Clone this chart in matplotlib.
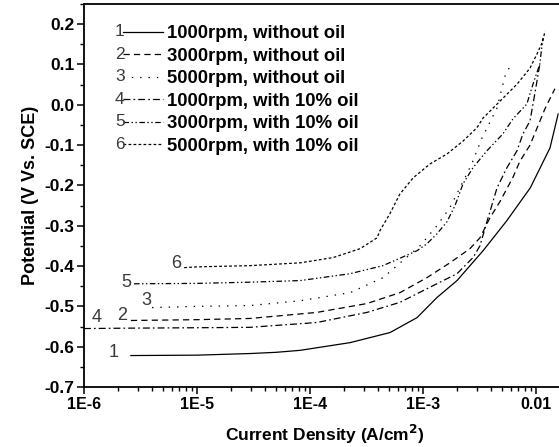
import matplotlib
matplotlib.use("Agg")
import matplotlib.pyplot as plt
from matplotlib.ticker import LogLocator, MultipleLocator, FixedLocator, FixedFormatter

plt.rcParams['font.family'] = ['Liberation Sans', 'DejaVu Sans']
plt.rcParams['lines.scale_dashes'] = False

# ---- data (current density A/cm^2, potential V vs SCE) ----
i1 = [2.6e-6, 1e-5, 2.94e-5, 5e-5, 8.2e-5, 2.26e-4, 5.1e-4, 8.85e-4, 1.33e-3, 2.0e-3,
      3.4e-3, 5.5e-3, 8.9e-3, 1.33e-2, 1.57e-2]
e1 = [-0.622, -0.621, -0.617, -0.614, -0.609, -0.590, -0.565, -0.528, -0.478, -0.436,
      -0.362, -0.288, -0.206, -0.107, -0.023]

i2 = [2.6e-6, 1e-5, 2.94e-5, 1.15e-4, 3.19e-4, 6.25e-4, 1.08e-3, 1.73e-3, 2.6e-3, 3.19e-3,
      3.92e-3, 4.8e-3, 6.25e-3, 7.2e-3, 8.85e-3, 1.2e-2, 1.47e-2]
e2 = [-0.535, -0.533, -0.530, -0.515, -0.493, -0.466, -0.429, -0.392, -0.357, -0.330,
      -0.280, -0.240, -0.180, -0.140, -0.100, -0.010, 0.040]

i3 = [4.0e-6, 1e-5, 2.94e-5, 8.2e-5, 2.26e-4, 4.42e-4, 5.89e-4, 9.4e-4, 1.33e-3, 1.73e-3,
      2.12e-3, 2.45e-3, 2.77e-3, 3.33e-3, 4.52e-3, 4.8e-3, 5.32e-3, 5.89e-3]
e3 = [-0.503, -0.500, -0.498, -0.486, -0.466, -0.429, -0.399, -0.350, -0.300, -0.255,
      -0.206, -0.171, -0.139, -0.082, -0.008, 0.022, 0.071, 0.096]

i4 = [1e-6, 2.6e-6, 1e-5, 2.94e-5, 1.15e-4, 3.19e-4, 6.25e-4, 1.22e-3, 2.0e-3, 2.77e-3,
      3.19e-3, 3.68e-3, 4.52e-3, 5.53e-3, 6.79e-3, 7.67e-3, 8.85e-3, 9.8e-3, 1.08e-2]
e4 = [-0.555, -0.554, -0.553, -0.552, -0.540, -0.515, -0.490, -0.449, -0.419, -0.379,
      -0.350, -0.290, -0.206, -0.156, -0.114, -0.072, -0.040, 0.030, 0.100]

i5 = [2.77e-6, 1e-5, 2.94e-5, 8.2e-5, 2.26e-4, 4.42e-4, 8.85e-4, 1.08e-3, 1.33e-3, 1.63e-3,
      1.92e-3, 2.26e-3, 2.77e-3, 3.68e-3, 5.1e-3, 6.25e-3, 8.3e-3, 9.4e-3, 1.08e-2, 1.15e-2]
e5 = [-0.444, -0.443, -0.440, -0.436, -0.419, -0.399, -0.362, -0.345, -0.320, -0.290,
      -0.250, -0.196, -0.156, -0.114, -0.072, -0.035, 0.002, 0.051, 0.101, 0.165]

i6 = [7.7e-6, 1e-5, 2.94e-5, 8.2e-5, 1.6e-4, 2.77e-4, 3.92e-4, 4.16e-4, 5.1e-4, 6.25e-4,
      8.2e-4, 1.15e-3, 1.63e-3, 2.26e-3, 3.0e-3, 3.4e-3, 4.8e-3, 6.79e-3, 8.85e-3, 1.02e-2,
      1.15e-2, 1.2e-2]
e6 = [-0.404, -0.402, -0.399, -0.392, -0.379, -0.357, -0.330, -0.312, -0.270, -0.221,
      -0.181, -0.147, -0.122, -0.090, -0.057, -0.033, 0.009, 0.051, 0.091, 0.126,
      0.158, 0.183]

labels = ["1000rpm, without oil", "3000rpm, without oil", "5000rpm, without oil",
          "1000rpm, with 10% oil", "3000rpm, with 10% oil", "5000rpm, with 10% oil"]
numbers = ["1", "2", "3", "4", "5", "6"]
xticks = [1e-6, 1e-5, 1e-4, 1e-3, 1e-2]
xticklabels = ["1E-6", "1E-5", "1E-4", "1E-3", "0.01"]
yticks = [-0.7, -0.6, -0.5, -0.4, -0.3, -0.2, -0.1, 0.0, 0.1, 0.2]

# curve number labels (x, y) in data coords
num_pos_x = [1.84e-6, 2.17e-6, 3.54e-6, 1.30e-6, 2.35e-6, 6.5e-6]
num_pos_y = [-0.614, -0.523, -0.486, -0.528, -0.441, -0.394]

series = [(i1, e1), (i2, e2), (i3, e3), (i4, e4), (i5, e5), (i6, e6)]
styles = [
    dict(linestyle='-'),
    dict(dashes=(4.5, 3.0)),
    dict(dashes=(1.0, 5.0)),
    dict(dashes=(5.0, 2.2, 1.2, 2.2)),
    dict(dashes=(4.0, 1.8, 1.0, 1.8, 1.0, 1.8)),
    dict(dashes=(2.0, 1.6)),
]

fig = plt.figure(figsize=(5.59, 4.47), dpi=100)
ax = fig.add_axes([84/559, 60/447, 482/559, 383/447])

handles = []
for (xs, ys), st in zip(series, styles):
    ln, = ax.plot(xs, ys, color='black', lw=0.9, **st)
    handles.append(ln)

ax.set_xscale('log')
ax.set_xlim(1e-6, 10**(-6 + 482/113))
ax.set_ylim(-0.7, 0.25)

ax.xaxis.set_major_locator(FixedLocator(xticks))
ax.xaxis.set_major_formatter(FixedFormatter(xticklabels))
ax.xaxis.set_minor_locator(LogLocator(base=10, subs=range(2, 10)))
ax.xaxis.set_minor_formatter(matplotlib.ticker.NullFormatter())
ax.yaxis.set_major_locator(FixedLocator(yticks))
ax.yaxis.set_major_formatter(matplotlib.ticker.FuncFormatter(lambda v, p: f"{v:.1f}"))
ax.yaxis.set_minor_locator(MultipleLocator(0.05))

ax.tick_params(which='major', direction='out', length=5, width=1.1, pad=2)
ax.tick_params(axis='x', which='major', labelsize=11.5)
ax.tick_params(axis='y', which='major', labelsize=12.5)
ax.tick_params(which='minor', direction='out', length=3, width=1.0)
for lab in ax.get_xticklabels() + ax.get_yticklabels():
    lab.set_fontweight('bold')
for s in ax.spines.values():
    s.set_linewidth(1.3)
ax.spines['right'].set_visible(False)

ax.set_ylabel("Potential (V Vs. SCE)", fontsize=13, fontweight='bold', labelpad=4)
ax.set_xlabel("Current Density (A/cm$^\\mathbf{2}$)", fontsize=12.5, fontweight='bold', labelpad=8)

for t, x, y in zip(numbers, num_pos_x, num_pos_y):
    ax.text(x, y, t, fontsize=13, color='#3a3a3a', ha='center', va='center')

leg = ax.legend(handles, labels, loc='upper left', bbox_to_anchor=(0.08, 0.945),
                frameon=False, prop=dict(weight='bold', size=13.3),
                handlelength=2.2, handletextpad=0.2, labelspacing=0.3,
                borderpad=0, borderaxespad=0)

fig.canvas.draw()
r = fig.canvas.get_renderer()
for t, ln in zip(numbers, leg.get_lines()):
    bb = ln.get_window_extent(r)
    fx, fy = fig.transFigure.inverted().transform((bb.x0 + 2, (bb.y0 + bb.y1) / 2))
    fig.text(fx, fy, t, fontsize=12.5, color='#3a3a3a', ha='right', va='center')

fig.savefig("out.png", dpi=100)
